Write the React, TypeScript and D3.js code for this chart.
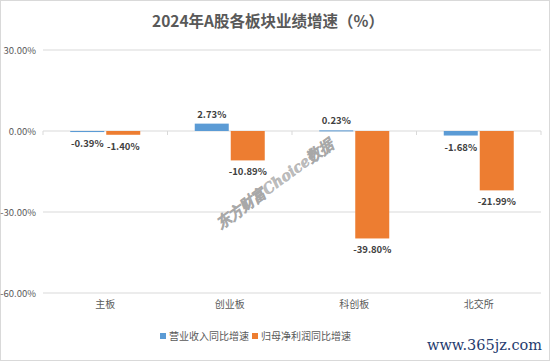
import * as d3 from 'd3';

const categories = ['主板', '创业板', '科创板', '北交所'];
const seriesNames = ['营业收入同比增速', '归母净利润同比增速'];
const revenueGrowth = [-0.39, 2.73, 0.23, -1.68];
const profitGrowth = [-1.4, -10.89, -39.8, -21.99];
const yTicks = [30, 0, -30, -60];

const W = 550;
const H = 361;
const colors = ['#5B9BD5', '#ED7D31'];
const font = '"Noto Sans CJK SC", "Noto Sans", sans-serif';

export default function App() {
  const margin = { left: 43, right: 9, top: 50, bottom: 68 };

  const x = d3.scaleBand()
    .domain(categories)
    .range([margin.left, W - margin.right]);

  const y = d3.scaleLinear()
    .domain([-60, 30])
    .range([H - margin.bottom, margin.top]);

  const barW = 34;
  const gap = 2;
  const series = [revenueGrowth, profitGrowth];

  return (
    <svg width={W} height={H} style={{ display: 'block', position: 'absolute', left: 0, top: 0, background: '#fff' }}>
      <rect x={0.5} y={0.5} width={W - 1} height={H - 1} fill="#fff" stroke="#d9d9d9" />

      <text x={268} y={27} textAnchor="middle" fontFamily={font} fontWeight="bold" fontSize={15.5} fill="#595959">
        2024年A股各板块业绩增速（%）
      </text>

      {/* grid + y labels */}
      {yTicks.map(t => (
        <g key={t}>
          <line x1={margin.left} x2={W - margin.right} y1={y(t)} y2={y(t)} stroke="#d9d9d9" />
          <text x={36} y={y(t) + 3.5} textAnchor="end" fontFamily={font} fontSize={9.5} fill="#595959">
            {t.toFixed(2)}%
          </text>
        </g>
      ))}

      {/* ticks on zero line */}
      {categories.concat(['end']).map((c, i) => {
        const xx = margin.left + i * x.step();
        return <line key={c} x1={xx} x2={xx} y1={y(0)} y2={y(0) + 4} stroke="#d9d9d9" />;
      })}

      {/* watermark */}
      <text x={0} y={0} transform="translate(221,229) rotate(-36)" fontFamily='"DejaVu Serif", serif'
        fontStyle="italic" fontWeight="bold" fontSize={15} fill="#bdbdbd" stroke="#a8a8a8" strokeWidth={0.4}
        textLength={140} lengthAdjust="spacingAndGlyphs">
        东方财富Choice数据
      </text>

      {/* bars */}
      {series.map((vals, si) => vals.map((v, ci) => {
        const cx = (x(categories[ci]) || 0) + x.bandwidth() / 2;
        const bx = si === 0 ? cx - barW - gap / 2 : cx + gap / 2;
        const top = Math.min(y(v), y(0));
        const h = Math.max(Math.abs(y(v) - y(0)), 1);
        const ly = v >= 0 ? y(v) - 6 : y(v) + 15;
        return (
          <g key={`${si}-${ci}`}>
            <rect x={bx} y={top} width={barW} height={h} fill={colors[si]} />
            <text x={bx + barW / 2} y={ly} textAnchor="middle" fontFamily={font} fontWeight="bold"
              fontSize={9.5} fill="#404040">
              {v.toFixed(2)}%
            </text>
          </g>
        );
      }))}

      {/* category labels */}
      {categories.map(c => (
        <text key={c} x={(x(c) || 0) + x.bandwidth() / 2} y={308} textAnchor="middle" fontFamily={font}
          fontSize={10} fill="#595959">
          {c}
        </text>
      ))}

      {/* legend */}
      {seriesNames.map((n, i) => {
        const lx = i === 0 ? 160 : 252;
        return (
          <g key={n}>
            <rect x={lx} y={333} width={6} height={6} fill={colors[i]} />
            <text x={lx + 9} y={340} fontFamily={font} fontSize={10} fill="#595959">{n}</text>
          </g>
        );
      })}

      <text x={427} y={350} fontFamily='"DejaVu Serif", serif' fontSize={15}
        fill="#1f3b6e" textLength={115} lengthAdjust="spacingAndGlyphs">
        www.365jz.com
      </text>
    </svg>
  );
}
